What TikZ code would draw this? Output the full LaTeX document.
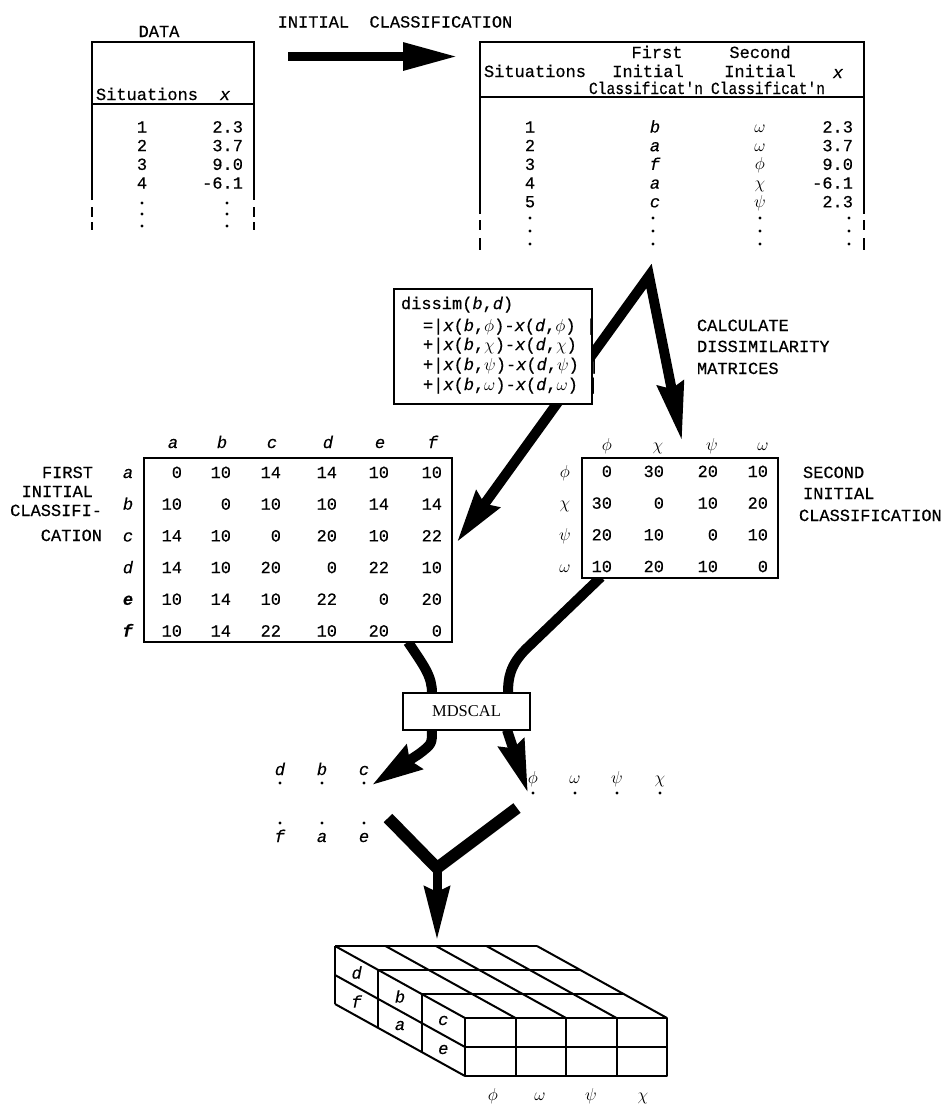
\documentclass[tikz,border=0pt]{standalone}
\usepackage{fontspec}
\usepackage{graphicx}
\setmainfont{Liberation Serif}
\setmonofont{Liberation Mono}[FakeBold=0.5]
\usetikzlibrary{arrows.meta}
\begin{document}
\begin{tikzpicture}[x=1pt,y=-1pt,
  tt/.style={font=\ttfamily\fontsize{17}{18.5}\selectfont, inner sep=0pt, outer sep=0pt},
  txt/.style={tt, anchor=base},
  rtxt/.style={tt, anchor=base east},
  ltxt/.style={tt, anchor=base west},
  ctxt/.style={tt, anchor=center},
  rule/.style={line width=2pt},
  fat/.style={line width=10pt},
  blk/.style={line width=2pt, line join=round},
  dotpt/.style={fill=black}
]
\useasboundingbox (0,0) rectangle (947,1104);

% ---------------- arrows (drawn first, boxes cover them)
\coordinate (ia0) at (288,56.5);
\coordinate (ia1) at (458,56.5);
\draw[line width=9pt, -{Triangle[length=55pt,width=26pt]}] (ia0) -- (ia1);

\coordinate (apex) at (649,276);
\coordinate (ltip) at (457,542);
\coordinate (rtip) at (682,441);
\draw[fat, line join=miter, {Stealth[length=52pt,width=28pt,inset=5pt]}-{Stealth[length=58pt,width=26pt,inset=5pt]}] (ltip) -- (apex) -- (rtip);

\coordinate (lc0) at (408,642);
\coordinate (lc1) at (432,693);
\draw[fat] (lc0) .. controls (424,666) and (432,676) .. (lc1);
\coordinate (rc0) at (601,577);
\coordinate (rc1) at (526,649);
\coordinate (rc2) at (508,693);
\draw[fat] (rc0) -- (rc1) .. controls (510,665) and (508,678) .. (rc2);

\coordinate (bl0) at (432,730);
\coordinate (bl1) at (419,754);
\coordinate (bltip) at (372,785);
\draw[fat, -{Stealth[length=50pt,width=28pt,inset=5pt]}] (bl0) .. controls (432,744) .. (bl1) -- (bltip);
\coordinate (br0) at (507,730);
\coordinate (brtip) at (528,793);
\draw[fat, -{Stealth[length=52pt,width=26pt,inset=5pt]}] (br0) -- (brtip);

\coordinate (vl) at (388,818);
\coordinate (vr) at (517,808);
\coordinate (vv) at (437,868);
\coordinate (vtip) at (437,940);
\draw[line width=12pt, line join=miter] (vl) -- (vv) -- (vr);
\draw[line width=9pt, -{Stealth[length=53pt,width=25pt,inset=5pt]}] (vv) -- (vtip);

% ---------------- DATA table
\node[txt] (datatitle) at (159,37) {DATA};
\draw[rule] (92,200) -- (92,42) -- (254,42) -- (254,200);
\draw[rule] (92,207) -- (92,217) (92,222) -- (92,230) (254,207) -- (254,217) (254,222) -- (254,230);
\draw[rule] (92,104) -- (254,104);
\node[txt] (dsit) at (147,100) {Situations};
\node[txt] (dxh) at (225,100) {\textit{x}};
\foreach \n/\v [count=\i] in {1/2.3,2/3.7,3/9.0,4/-6.1} {
  \node[txt] (dn\i) at (142,{113.8+18.7*\i}) {\n};
  \node[rtxt] (dv\i) at (243,{113.8+18.7*\i}) {\v};
}
\foreach \y in {203,214,226} {\fill (142,\y) circle (1.6pt); \fill (227,\y) circle (1.6pt);}

% ---------------- initial classification label
\node[txt] (icl) at (395,27.5) {INITIAL\ \ CLASSIFICATION};

% ---------------- right table
\draw[rule] (480,214) -- (480,42) -- (864,42) -- (864,214);
\draw[rule] (480,220) -- (480,230) (480,238) -- (480,250) (864,220) -- (864,230) (864,238) -- (864,250);
\draw[rule] (480,97) -- (864,97);
\node[txt] (hfirst) at (657,58) {First};
\node[txt] (hsecond) at (760,58) {Second};
\node[txt] (hsit) at (535,77) {Situations};
\node[txt] (hini1) at (648,77) {Initial};
\node[txt] (hini2) at (760,77) {Initial};
\node[txt] (hx) at (838,78) {\textit{x}};
\node[txt] (hcl1) at (646,94) {\scalebox{0.86}[1]{Classificat'n}};
\node[txt] (hcl2) at (768,94) {\scalebox{0.86}[1]{Classificat'n}};
\foreach \n/\cc/\g/\v [count=\i] in {1/b/\omega/2.3, 2/a/\omega/3.7, 3/f/\phi/9.0, 4/a/\chi/-6.1, 5/c/\psi/2.3} {
  \node[txt] (rn\i) at (530,{113.8+18.7*\i}) {\n};
  \node[txt] (rc\i) at (655,{113.8+18.7*\i}) {\textit{\cc}};
  \node[txt] (rg\i) at (760,{113.8+18.7*\i}) {$\g$};
  \node[rtxt] (rv\i) at (853,{113.8+18.7*\i}) {\v};
}
\foreach \y in {218,231,244} {
  \fill (530,\y) circle (1.6pt); \fill (653,\y) circle (1.6pt);
  \fill (760,\y) circle (1.6pt); \fill (849,\y) circle (1.6pt);
}

% ---------------- dissimilarity box
\node[draw, rule, fill=white, minimum width=198pt, minimum height=115pt, inner sep=0pt] (dbox) at (493,346.5) {};
\node[ltxt] (dl0) at (401,309) {dissim(\textit{b},\textit{d})};
\foreach \s/\g/\y [count=\i] in {=/\phi/331, +/\chi/350, +/\psi/370, +/\omega/390} {
  \node[ltxt] (dl\i) at (423,\y) {\s|\textit{x}(\textit{b},$\g$)-\textit{x}(\textit{d},$\g$) |};
}

\node[ltxt] (calc1) at (697,331) {CALCULATE};
\node[ltxt] (calc2) at (697,352) {DISSIMILARITY};
\node[ltxt] (calc3) at (697,374) {MATRICES};

% ---------------- left matrix
\node[draw, rule, fill=white, minimum width=308pt, minimum height=184pt, inner sep=0pt] (lmat) at (298,550) {};
\foreach \cc/\x in {a/173,b/222,c/272,d/328,e/380,f/433} \node[txt] (lh\cc) at (\x,448) {\textit{\cc}};
\foreach \r/\ma/\mb/\mc/\md/\me/\mf [count=\i] in {a/0/10/14/14/10/10, b/10/0/10/10/14/14, c/14/10/0/20/10/22, d/14/10/20/0/22/10, {\bfseries e}/10/14/10/22/0/20, {\bfseries f}/10/14/22/10/20/0} {
  \node[txt] (lr\i) at (128,{446.3+31.7*\i}) {\textit{\r}};
  \node[rtxt] (lm\i a) at (182,{446.3+31.7*\i}) {\ma};
  \node[rtxt] (lm\i b) at (231,{446.3+31.7*\i}) {\mb};
  \node[rtxt] (lm\i c) at (281,{446.3+31.7*\i}) {\mc};
  \node[rtxt] (lm\i d) at (337,{446.3+31.7*\i}) {\md};
  \node[rtxt] (lm\i e) at (389,{446.3+31.7*\i}) {\me};
  \node[rtxt] (lm\i f) at (442,{446.3+31.7*\i}) {\mf};
}
\node[rtxt] (fi1) at (93,478) {FIRST};
\node[rtxt] (fi2) at (93,497) {INITIAL};
\node[rtxt] (fi3) at (102,516) {CLASSIFI-};
\node[rtxt] (fi4) at (102,541) {CATION};

% ---------------- right matrix
\node[draw, rule, fill=white, minimum width=196pt, minimum height=120pt, inner sep=0pt] (rmat) at (680,518) {};
\foreach \g/\n/\x in {\phi/1/607,\chi/2/658,\psi/3/712,\omega/4/763} \node[txt] (gh\n) at (\x,450) {$\g$};
\foreach \g/\ma/\mb/\mc/\md [count=\i] in {\phi/0/30/20/10, \chi/30/0/10/20, \psi/20/10/0/10, \omega/10/20/10/0} {
  \node[txt] (gr\i) at (565,{445.3+31.7*\i}) {$\g$};
  \node[rtxt] (gm\i a) at (612,{445.3+31.7*\i}) {\ma};
  \node[rtxt] (gm\i b) at (664,{445.3+31.7*\i}) {\mb};
  \node[rtxt] (gm\i c) at (718,{445.3+31.7*\i}) {\mc};
  \node[rtxt] (gm\i d) at (768,{445.3+31.7*\i}) {\md};
}
\node[ltxt] (si1) at (803,478) {SECOND};
\node[ltxt] (si2) at (803,499) {INITIAL};
\node[ltxt] (si3) at (799,521) {CLASSIFICATION};

% ---------------- MDSCAL
\node[draw, line width=1.8pt, fill=white, minimum width=127pt, minimum height=37pt, inner sep=0pt, font=\rmfamily\fontsize{16.5}{16.5}\selectfont] (mds) at (466.5,711.5) {MDSCAL};

% ---------------- point configurations
\foreach \l/\x in {d/280,b/322,c/364} {\node[txt] (p\l) at (\x,775) {\textit{\l}}; \fill (\x,783) circle (1.6pt);}
\foreach \l/\x in {f/280,a/322,e/364} {\node[txt] (p\l) at (\x,842) {\textit{\l}}; \fill (\x,823) circle (1.6pt);}
\foreach \g/\n/\x in {\phi/1/533,\omega/2/575,\psi/3/617,\chi/4/660} {\node[txt] (q\n) at (\x,783) {$\g$}; \fill (\x,793) circle (1.6pt);}

% ---------------- block
\begin{scope}[blk]
\draw (465,1018) rectangle (667,1076);
\draw (465,1047) -- (667,1047);
\foreach \j in {1,2,3} \draw ({465+50.5*\j},1018) -- ({465+50.5*\j},1076);
\foreach \k in {1,2,3} \draw ({465-43.33*\k},{1018-24*\k}) -- ({667-43.33*\k},{1018-24*\k});
\foreach \j in {0,...,4} \draw ({465+50.5*\j},1018) -- ({335+50.5*\j},946);
\foreach \k in {1,2,3} \draw ({465-43.33*\k},{1018-24*\k}) -- ({465-43.33*\k},{1076-24*\k});
\draw (465,1076) -- (335,1004);
\draw (465,1047) -- (335,975);
\end{scope}
\node[ctxt] (bkd) at (356.7,972.5) {\textit{d}};
\node[ctxt] (bkf) at (356.7,1001.5) {\textit{f}};
\node[ctxt] (bkb) at (400,996.5) {\textit{b}};
\node[ctxt] (bka) at (400,1025.5) {\textit{a}};
\node[ctxt] (bkc) at (443.3,1020.5) {\textit{c}};
\node[ctxt] (bke) at (443.3,1049.5) {\textit{e}};
\foreach \g/\n/\x in {\phi/1/493,\omega/2/540,\psi/3/591,\chi/4/643} \node[txt] (bg\n) at (\x,1100) {$\g$};
\end{tikzpicture}
\end{document}
